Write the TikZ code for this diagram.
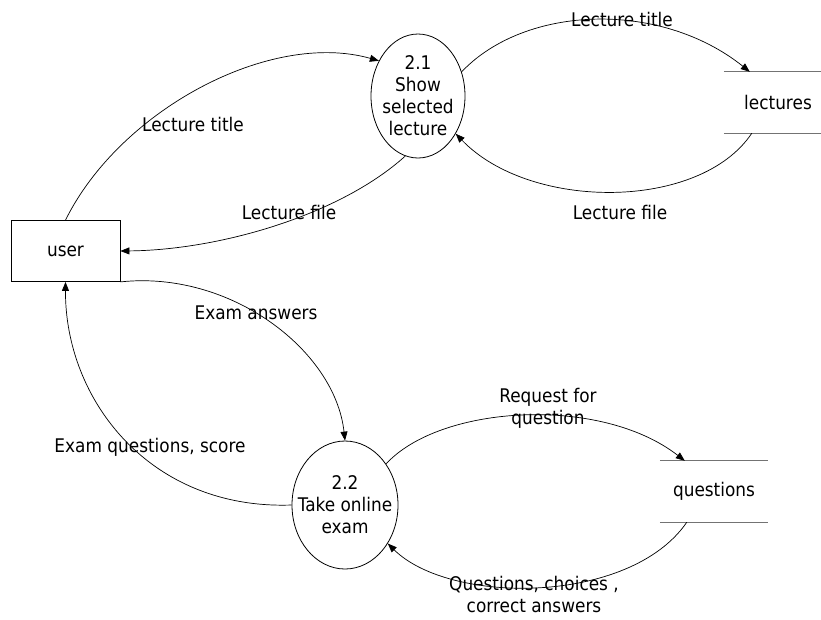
\documentclass[tikz,border=0pt]{standalone}
\usepackage{fontspec}
\setmainfont{DejaVu Sans}[FakeStretch=0.9]
\usetikzlibrary{arrows.meta,shapes.geometric}
\begin{document}
\begin{tikzpicture}[x=1pt,y=-1pt,
  every node/.style={font=\fontsize{18.8}{22}\selectfont},
  entity/.style={draw,line width=0.8pt,minimum width=109pt,minimum height=61pt,inner sep=0pt},
  process/.style={draw,ellipse,line width=0.8pt,inner sep=0pt},
  ptext/.style={align=center,inner sep=0pt},
  store/.style={minimum width=108pt,minimum height=61pt,inner sep=0pt},
  storeline/.style={draw=black!55,line width=1.2pt},
  flow/.style={line width=0.7pt,-{Triangle[length=9pt,width=7pt]}},
  lbl/.style={align=center,inner sep=0pt}]
\useasboundingbox (0,0) rectangle (821,619);
\coordinate (rim) at (821,0);

% external entity
\node[entity] (user) at (65.5,251) {user};

% processes: fixed-size ellipses, text set in a centred label
\node[process,minimum width=94pt,minimum height=124pt,
  label={[ptext]center:2.1\\Show\\selected\\lecture}] (p21) at (418,96) {};
\node[process,minimum width=106pt,minimum height=128pt,
  label={[ptext]center:2.2\\Take online\\exam}] (p22) at (345,505) {};

% data stores
\node[store] (lectures) at (778,102.5) {lectures};
\draw[storeline] (lectures.north west) -- (lectures.north west -| rim);
\draw[storeline] (lectures.south west) -- (lectures.south west -| rim);
\node[store] (questions) at (714,491.5) {questions};
\draw[storeline] (questions.north west) -- (questions.north east);
\draw[storeline] (questions.south west) -- (questions.south east);

\coordinate (lecin) at ([xshift=26pt]lectures.north west);
\coordinate (lecout) at ([xshift=28pt]lectures.south west);
\coordinate (qin) at ([xshift=25pt]questions.north west);
\coordinate (qout) at ([xshift=27pt]questions.south west);

% data flows
\draw[flow] (user.north) .. controls (120,110) and (270,30) .. (p21.138);
\draw[flow] (p21.258) .. controls (340,215) and (220,250) .. (user.east);
\draw[flow] (p21.29) .. controls (525,5) and (660,0) .. (lecin);
\draw[flow] (lecout) .. controls (700,211) and (530,211) .. (p21.-45);
\draw[flow] (user.south east) .. controls (230,270) and (335,350) .. (p22.north);
\draw[flow] (p22.west) .. controls (150,510) and (65,400) .. (user.south);
\draw[flow] (p22.45) .. controls (440,405) and (600,395) .. (qin);
\draw[flow] (qout) .. controls (630,605) and (450,605) .. (p22.-42);

% flow labels
\node[lbl] (t1) at (193,124) {Lecture title};
\node[lbl] (t2) at (289,212) {Lecture file};
\node[lbl] (t3) at (622,19) {Lecture title};
\node[lbl] (t4) at (620,212) {Lecture file};
\node[lbl] (t5) at (256,313) {Exam answers};
\node[lbl] (t6) at (150,447) {Exam questions, score};
\node[lbl] (t7) at (548,408) {Request for\\question};
\node[lbl] (t8) at (534,594) {Questions, choices ,\\correct answers};
\end{tikzpicture}
\end{document}
